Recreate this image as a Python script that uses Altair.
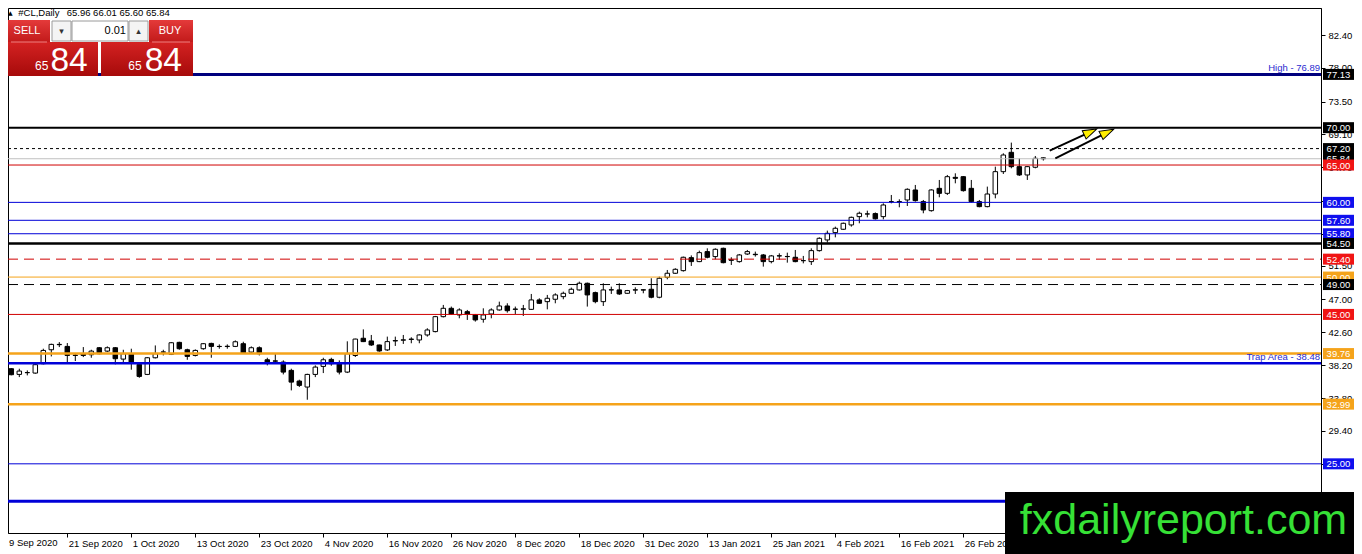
import json

import altair as alt
import pandas as pd

# Daily candles, bar 0 = 9 Sep 2020 (one bar per trading day)
opens = [36.70, 37.73, 36.97, 37.20, 37.15, 38.40, 40.27, 40.95, 40.72, 39.55,
         39.74, 39.60, 40.54, 40.09, 40.54, 39.02, 39.74, 38.31, 36.97, 39.20,
         39.94, 39.65, 41.26, 40.27, 39.51, 40.41, 41.12, 40.72, 40.70, 40.72,
         41.08, 39.96, 40.54, 38.93, 38.78, 38.62, 37.51, 36.08, 35.28, 36.97,
         38.04, 38.98, 38.40, 37.28, 39.50, 41.81, 41.45, 40.91, 40.25, 41.45,
         41.55, 41.65, 41.58, 42.25, 42.70, 44.70, 45.82, 44.93, 45.37, 44.93,
         44.35, 45.06, 45.60, 46.13, 45.68, 45.70, 45.68, 46.94, 46.71, 47.03,
         47.38, 47.83, 48.28, 49.17, 47.92, 46.71, 48.28, 48.28, 47.83, 48.26,
         48.30, 48.37, 47.30, 49.97, 50.51, 50.86, 52.60, 52.07, 53.41, 52.74,
         53.85, 52.30, 52.07, 53.09, 53.05, 52.96, 52.07, 52.85, 52.76, 52.65,
         52.20, 52.07, 53.54, 54.97, 55.95, 56.40, 56.98, 58.09, 58.45, 58.50,
         58.09, 60.10, 60.10, 60.32, 61.66, 60.10, 58.89, 61.88, 61.21, 63.35,
         63.44, 61.88, 60.10, 59.43, 61.12, 64.11, 66.70, 64.78, 63.67, 64.70,
         65.96]
highs = [37.85, 37.80, 37.73, 37.51, 38.49, 40.41, 41.08, 41.30, 41.17, 39.83,
         40.63, 40.27, 40.63, 40.72, 40.63, 40.27, 40.41, 38.49, 39.29, 40.85,
         40.27, 41.30, 41.34, 40.41, 40.32, 41.17, 41.21, 40.99, 40.99, 41.52,
         41.34, 40.72, 40.72, 39.20, 39.74, 38.85, 37.73, 36.26, 37.06, 38.18,
         39.20, 39.20, 38.85, 41.40, 41.75, 43.00, 42.25, 40.95, 42.03, 42.03,
         42.25, 41.94, 42.34, 43.15, 44.80, 46.27, 46.05, 45.82, 45.60, 45.06,
         45.82, 45.82, 46.71, 46.49, 46.05, 46.27, 47.74, 47.16, 47.61, 47.83,
         48.05, 48.59, 49.39, 49.26, 48.05, 49.17, 48.72, 49.17, 48.28, 48.63,
         48.37, 49.84, 50.06, 50.95, 51.18, 52.74, 52.90, 53.54, 53.85, 53.85,
         53.94, 52.65, 53.09, 53.63, 53.41, 53.09, 52.96, 53.18, 53.27, 53.63,
         52.83, 53.85, 55.32, 56.22, 56.75, 57.29, 58.09, 58.76, 58.89, 58.65,
         59.87, 60.99, 60.41, 61.88, 62.33, 60.32, 61.75, 63.00, 63.67, 63.89,
         63.53, 63.00, 60.32, 62.11, 64.78, 66.57, 68.00, 65.90, 64.87, 66.21,
         66.01]
lows = [36.17, 36.85, 36.61, 36.84, 37.06, 38.31, 39.38, 40.63, 38.62, 38.76,
        39.29, 39.20, 39.65, 39.96, 38.31, 38.49, 37.60, 36.52, 36.88, 39.11,
        39.51, 39.56, 40.27, 38.93, 39.38, 40.27, 39.20, 40.41, 40.41, 40.63,
        39.74, 39.74, 39.51, 38.18, 38.40, 36.97, 34.83, 35.28, 33.58, 36.61,
        37.15, 38.13, 36.97, 37.15, 39.30, 41.30, 40.78, 40.00, 40.11, 40.78,
        41.05, 41.14, 41.14, 42.03, 42.60, 44.60, 44.93, 44.48, 44.26, 44.04,
        43.90, 44.48, 45.50, 45.24, 45.06, 44.80, 45.60, 46.40, 45.68, 46.49,
        47.03, 47.74, 48.19, 46.05, 46.49, 46.13, 47.74, 47.61, 47.74, 47.74,
        47.83, 47.16, 47.16, 49.70, 50.42, 50.73, 51.49, 52.00, 52.51, 52.38,
        51.84, 51.62, 51.93, 52.96, 52.74, 51.40, 51.84, 52.30, 51.93, 51.98,
        51.84, 51.62, 53.41, 54.61, 55.32, 56.31, 56.75, 57.20, 58.00, 57.70,
        57.73, 59.87, 59.34, 59.52, 60.10, 58.54, 58.76, 60.68, 60.99, 62.55,
        61.44, 59.97, 59.34, 59.34, 60.54, 63.80, 64.56, 63.53, 63.00, 64.56,
        65.60]
closes = [37.82, 36.93, 37.42, 37.22, 38.27, 40.18, 40.99, 40.99, 39.51, 39.51,
          39.51, 40.09, 39.74, 40.54, 39.07, 39.74, 38.49, 36.70, 39.20, 39.74,
          39.98, 41.21, 40.41, 39.38, 40.18, 41.08, 40.72, 40.70, 40.74, 41.34,
          39.83, 40.54, 39.74, 38.62, 38.74, 37.28, 35.94, 35.50, 36.97, 37.95,
          38.93, 38.40, 37.28, 39.74, 41.70, 41.36, 40.91, 40.11, 41.36, 41.50,
          41.60, 41.70, 42.25, 42.92, 44.70, 45.82, 45.06, 45.60, 45.06, 44.26,
          44.93, 45.60, 46.13, 45.50, 45.72, 45.75, 46.94, 46.49, 47.16, 47.61,
          47.83, 48.37, 49.17, 47.61, 46.71, 48.28, 48.30, 47.74, 48.19, 48.30,
          48.26, 47.30, 49.84, 50.51, 51.04, 52.65, 52.07, 53.27, 52.65, 53.72,
          51.93, 52.25, 52.96, 53.41, 53.00, 52.07, 52.83, 52.83, 52.74, 52.07,
          52.20, 53.54, 55.19, 55.86, 56.53, 57.20, 58.00, 58.54, 58.45, 57.80,
          59.65, 60.10, 60.05, 61.75, 60.23, 58.98, 61.66, 61.21, 63.44, 63.22,
          61.57, 60.10, 59.43, 61.12, 64.11, 66.34, 64.78, 63.67, 64.78, 65.90,
          65.84]

# one date label every 8 bars
date_labels = ["9 Sep 2020", "21 Sep 2020", "1 Oct 2020", "13 Oct 2020", "23 Oct 2020",
               "4 Nov 2020", "16 Nov 2020", "26 Nov 2020", "8 Dec 2020", "18 Dec 2020",
               "31 Dec 2020", "13 Jan 2021", "25 Jan 2021", "4 Feb 2021", "16 Feb 2021",
               "26 Feb 2021"]

price_ticks = [82.40, 78.00, 73.50, 69.10, 64.70, 60.20, 55.80, 51.50, 47.00, 42.60,
               38.20, 33.80, 29.40, 25.00]

# horizontal levels, top to bottom
levels = [77.13, 70.00, 67.20, 65.84, 65.00, 60.00, 57.60, 55.80, 54.50, 52.40,
          50.00, 49.00, 45.00, 39.76, 38.48, 32.99, 25.00, 20.00]
boxed_levels = [77.13, 70.00, 67.20, 65.84, 65.00, 60.00, 57.60, 55.80, 54.50, 52.40,
                50.00, 49.00, 45.00, 39.76, 32.99, 25.00]
level_notes = ["High - 76.89", "Trap Area - 38.48"]
note_levels = [77.13, 38.48]

# the two drawn arrows: tail and head centre (bar index, price)
arrow_tail_bar = [130.8, 131.5]
arrow_tail_price = [66.92, 65.90]
arrow_head_bar = [135.9, 138.0]
arrow_head_price = [69.43, 69.37]
arrow_angle = [65, 64]

symbol_text = "#CL,Daily"
ohlc_text = "65.96 66.01 65.60 65.84"
quote_small, quote_big = "65", "84"
lot_text = "0.01"
watermark = "fxdailyreport.com"

# ---- styles ----
FONT = "Liberation Sans"
W, H = 1313, 525
NAVY, BLUE, RED, ORANGE, GRAY = "#00007e", "#0000d8", "#d00000", "#f5a31a", "#c0c0c0"
BOX_BLUE, BOX_RED = "#0f0fee", "#f01414"

line_style = {
    77.13: (NAVY, 3, None), 70.00: ("black", 2, None), 67.20: ("black", 1, [3, 3]),
    65.84: (GRAY, 1, None), 65.00: (RED, 1, None), 60.00: (BLUE, 1, None),
    57.60: (BLUE, 1, None), 55.80: (BLUE, 1, None), 54.50: ("black", 2.5, None),
    52.40: (RED, 1, [10, 6]), 50.00: (ORANGE, 1, None), 49.00: ("black", 1, [10, 6]),
    45.00: (RED, 1, None), 39.76: (ORANGE, 2.5, None), 38.48: (BLUE, 2.5, None),
    32.99: (ORANGE, 2.5, None), 25.00: (BLUE, 1, None), 20.00: (BLUE, 3, None),
}
box_color = {
    77.13: "black", 70.00: "black", 67.20: "black", 65.84: "black", 65.00: BOX_RED,
    60.00: BOX_BLUE, 57.60: BOX_BLUE, 55.80: BOX_BLUE, 54.50: "black", 52.40: BOX_RED,
    50.00: ORANGE, 49.00: "black", 45.00: BOX_RED, 39.76: ORANGE, 32.99: ORANGE,
    25.00: BOX_BLUE,
}

x_scale = alt.Scale(domain=[0.5875, 164.71], nice=False, zero=False)
y_scale = alt.Scale(domain=[15.74, 86.02], nice=False, zero=False)

label_expr = json.dumps(date_labels) + "[round(datum.value / 8)]"
x_axis = alt.Axis(values=[8 * k for k in range(1, len(date_labels))],
                  labelExpr=label_expr, title=None, grid=False, tickSize=4,
                  labelAlign="left", labelOffset=1, labelPadding=1,
                  labelFont=FONT, labelFontSize=9.5, labelColor="black",
                  domainColor="black", tickColor="black",
                  labelOverlap=False, labelFlush=False)
y_axis = alt.Axis(values=price_ticks, format=".2f", orient="right", title=None,
                  grid=False, tickSize=4, labelPadding=3, labelFont=FONT,
                  labelFontSize=9.5, labelColor="black", domainColor="black",
                  tickColor="black", labelOverlap=False, labelFlush=False)

blank = alt.Data(values=[{"k": 0}])


def px_rect(x1, y1, x2, y2, **kw):
    return alt.Chart(blank).mark_rect(**kw).encode(
        x=alt.value(x1), x2=alt.value(x2), y=alt.value(y1), y2=alt.value(y2))


def px_text(txt, x, y, **kw):
    kw.setdefault("font", FONT)
    return alt.Chart(blank).mark_text(text=txt, **kw).encode(x=alt.value(x), y=alt.value(y))


def red_fill(top, bottom):
    return alt.LinearGradient(gradient="linear", x1=0, x2=0, y1=0, y2=1,
                              stops=[alt.GradientStop(color=top, offset=0),
                                     alt.GradientStop(color=bottom, offset=1)])


candles = pd.DataFrame({"bar": list(range(len(opens))), "open": opens, "high": highs,
                        "low": lows, "close": closes})
candles["dir"] = ["up" if c >= o else "down" for o, c in zip(opens, closes)]

layers = []

# candles
layers.append(alt.Chart(candles).mark_rule(color="black", strokeWidth=1, clip=True).encode(
    x=alt.X("bar:Q", scale=x_scale, axis=x_axis, title=None),
    y=alt.Y("low:Q", scale=y_scale, axis=y_axis, title=None),
    y2="high"))
layers.append(alt.Chart(candles).transform_calculate(
    x_lo="datum.bar - 0.28", x_hi="datum.bar + 0.28"
).mark_rect(stroke="black", strokeWidth=1, clip=True).encode(
    x=alt.X("x_lo:Q", scale=x_scale, title=None), x2="x_hi",
    y=alt.Y("open:Q", scale=y_scale, title=None), y2="close",
    fill=alt.Fill("dir:N", scale=alt.Scale(domain=["up", "down"], range=["white", "black"]),
                  legend=None)))

# level lines
for lv in levels:
    color, width, dash = line_style[lv]
    kw = dict(color=color, strokeWidth=width)
    if dash:
        kw["strokeDash"] = dash
    layers.append(alt.Chart(pd.DataFrame({"price": [lv]})).mark_rule(**kw).encode(
        x=alt.value(0), x2=alt.value(W),
        y=alt.Y("price:Q", scale=y_scale, title=None)))

# notes written on lines
notes = pd.DataFrame({"price": note_levels, "note": level_notes})
layers.append(alt.Chart(notes).mark_text(
    align="right", baseline="bottom", dy=-1, font=FONT, fontSize=9.5, color="#2b2bd0"
).encode(x=alt.value(W - 1), y=alt.Y("price:Q", scale=y_scale, title=None), text="note:N"))

# price boxes on the right axis
for lv in boxed_levels:
    df = pd.DataFrame({"price": [lv], "tag": [f"{lv:.2f}"]})
    layers.append(alt.Chart(df).mark_rect(fill=box_color[lv], yOffset=-5.5, y2Offset=5.5).encode(
        x=alt.value(W + 2), x2=alt.value(W + 33),
        y=alt.Y("price:Q", scale=y_scale, title=None), y2="price"))
    layers.append(alt.Chart(df).mark_text(
        color="white", font=FONT, fontSize=9.5, align="center", baseline="middle", dy=0.5
    ).encode(x=alt.value(W + 17.5), y=alt.Y("price:Q", scale=y_scale, title=None), text="tag:N"))

# arrows
arrows = pd.DataFrame({"b0": arrow_tail_bar, "p0": arrow_tail_price,
                       "b1": arrow_head_bar, "p1": arrow_head_price, "ang": arrow_angle})
layers.append(alt.Chart(arrows).mark_rule(color="black", strokeWidth=2).encode(
    x=alt.X("b0:Q", scale=x_scale, title=None), x2="b1",
    y=alt.Y("p0:Q", scale=y_scale, title=None), y2="p1"))
layers.append(alt.Chart(arrows).mark_point(
    shape="M0,-1L0.65,1L-0.65,1Z", filled=True, fill="#ffee00", stroke="black",
    strokeWidth=1, size=196, opacity=1
).encode(x=alt.X("b1:Q", scale=x_scale, title=None),
         y=alt.Y("p1:Q", scale=y_scale, title=None),
         angle=alt.Angle("ang:Q", scale=None)))

# first date label sits left of the visible range
layers.append(px_text(date_labels[0], 1, 530, align="left", baseline="top",
                      fontSize=9.5, color="black"))

# one-click trading panel
top_red = red_fill("#e43a3a", "#c21a1a")
big_red = red_fill("#d42222", "#a60a0a")
layers += [
    px_rect(0, 12, 42, 34, fill=top_red),
    px_rect(0, 34, 90, 68, fill=big_red),
    px_rect(141, 12, 185, 34, fill=top_red),
    px_rect(93, 34, 185, 68, fill=big_red),
    px_rect(44, 13, 63, 33, fill="#f4f4f4", stroke="#9a9a9a", strokeWidth=1),
    px_rect(64, 13, 120, 33, fill="white", stroke="#9a9a9a", strokeWidth=1),
    px_rect(121, 13, 140, 33, fill="#f4f4f4", stroke="#9a9a9a", strokeWidth=1),
    alt.Chart(blank).mark_rule(color="#ee8080", strokeWidth=1).encode(
        x=alt.value(3), x2=alt.value(39), y=alt.value(34)),
    alt.Chart(blank).mark_rule(color="#ee8080", strokeWidth=1).encode(
        x=alt.value(144), x2=alt.value(182), y=alt.value(34)),
    px_text("SELL", 19, 23, color="white", fontSize=11, align="center", baseline="middle"),
    px_text("BUY", 162, 23, color="white", fontSize=11, align="center", baseline="middle"),
    px_text(lot_text, 118, 23, color="black", fontSize=11, align="right", baseline="middle"),
    px_text("\u25be", 53.5, 23, font="DejaVu Sans", fontSize=9, color="#333333",
            align="center", baseline="middle"),
    px_text("\u25b4", 130.5, 23, font="DejaVu Sans", fontSize=9, color="#333333",
            align="center", baseline="middle"),
    px_text(quote_small, 33.7, 62, color="white", fontSize=12, align="center",
            baseline="alphabetic"),
    px_text(quote_big, 61, 62.7, color="white", fontSize=33.5, align="center",
            baseline="alphabetic"),
    px_text(quote_small, 127, 62, color="white", fontSize=12, align="center",
            baseline="alphabetic"),
    px_text(quote_big, 155.3, 62.7, color="white", fontSize=33.5, align="center",
            baseline="alphabetic"),
]

# header line
layers += [
    px_text("\u25b2", 0, 5, font="DejaVu Sans", fontSize=6, color="black", align="left",
            baseline="middle"),
    px_text(symbol_text, 10.3, 5, fontSize=9.5, color="black", align="left",
            baseline="middle"),
    px_text(ohlc_text, 58.7, 5, fontSize=9.5, color="black", align="left",
            baseline="middle"),
]

# watermark
layers += [
    px_rect(997, 484, 1346, 546, fill="black"),
    px_text(watermark, 1175.5, 526, fontSize=43, color="#36e136", align="center",
            baseline="alphabetic"),
]

chart = alt.layer(*layers).properties(
    width=W,
    height=H,
    autosize=alt.AutoSizeParams(type="none"),
    padding={"left": 0, "top": 0, "right": 33, "bottom": 21},
).configure(
    background="white"
).configure_view(
    stroke="black", strokeWidth=1
)

chart.save("out.html", embed_options={"renderer": "svg", "actions": False})
